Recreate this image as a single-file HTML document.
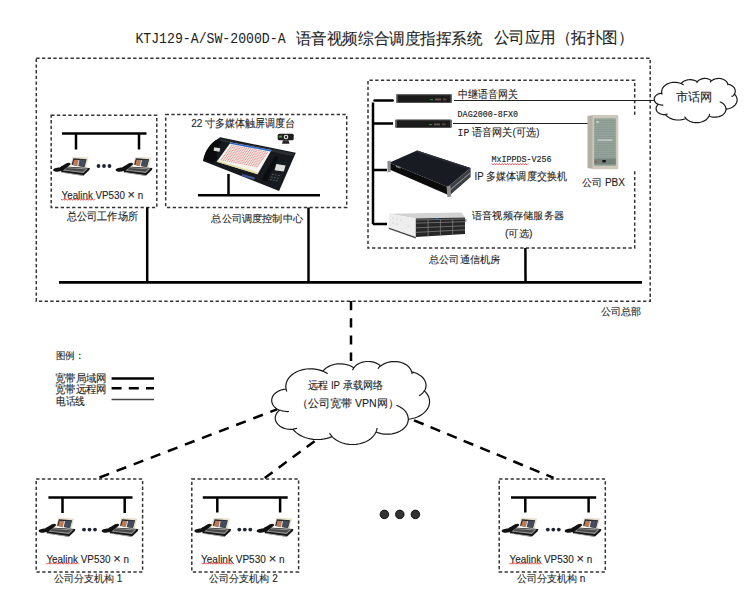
<!DOCTYPE html><html><head><meta charset="utf-8"><style>
html,body{margin:0;padding:0;background:#fff;width:750px;height:600px;overflow:hidden}
svg{display:block}
</style></head><body>
<svg width="750" height="600" viewBox="0 0 750 600">
<defs>
<symbol id="phone" viewBox="0 0 37 20" overflow="visible">
 <polygon points="19,0.8 35.1,1.4 32.5,12.3 17.2,9.3" fill="#e6dfcc"/>
 <polygon points="19.9,2.3 33.1,3.2 31,11.1 18.1,8.75" fill="#23262c"/>
 <polygon points="20.6,3.8 24.8,4.1 23.6,9.9 19.2,9.1" fill="#bf7a55"/>
 <polygon points="24.8,4.1 26.3,4.2 25.1,10.1 23.6,9.9" fill="#d8d8d8"/>
 <polygon points="26.3,3.5 32.5,3.9 30.6,10.9 25.1,10.1" fill="#424c5c"/>
 <polygon points="7.6,10.3 36.3,12 35.9,14 29.8,19.8 7.8,16.2" fill="#141414"/>
 <polygon points="11.1,11.1 34.5,12.6 29.8,17 9.3,14.6" fill="#9c9c9c"/>
 <polygon points="13,11.9 32.5,13.2 29.5,15.8 11.5,13.9" fill="#4a4a4a"/>
 <polygon points="8.5,15.9 29.8,19 29.8,19.9 8,16.7" fill="#a8a8a8"/>
 <path d="M-0.3,14.2 C-0.5,12.2 3,11.6 6,11.4 L13,7.2 C15.5,6 17.8,6.8 16.8,8.8 L10.8,13.6 C7.5,16 0.5,16.5 -0.3,14.2 Z" fill="#111"/>
</symbol>
<symbol id="dots3" viewBox="0 0 15 4" overflow="visible">
 <circle cx="2" cy="2" r="1.9" fill="#1d2533"/><circle cx="7.5" cy="2" r="1.9" fill="#1d2533"/><circle cx="13" cy="2" r="1.9" fill="#1d2533"/>
</symbol>
</defs>
<g fill="none" stroke="#000">
<rect x="36.3" y="58.2" width="613.9000000000001" height="243.0" stroke="#333" stroke-width="1.5" stroke-dasharray="3.3 2.4"/>
<rect x="51.2" y="115.2" width="105.60000000000001" height="92.3" stroke="#333" stroke-width="1.5" stroke-dasharray="3.3 2.4"/>
<rect x="165.7" y="114.5" width="181.0" height="92.9" stroke="#333" stroke-width="1.5" stroke-dasharray="3.3 2.4"/>
<path d="M634.7,114.7 L634.7,80.2 L368,80.2 L368,248.1 L634.7,248.1 L634.7,171" stroke="#333" stroke-width="1.5" stroke-dasharray="3.3 2.4"/>
<rect x="36.2" y="479" width="106.39999999999999" height="92.89999999999998" stroke="#333" stroke-width="1.5" stroke-dasharray="3.3 2.4"/>
<rect x="191.8" y="479" width="106.80000000000001" height="92.89999999999998" stroke="#333" stroke-width="1.5" stroke-dasharray="3.3 2.4"/>
<rect x="499.2" y="479" width="106.09999999999997" height="92.89999999999998" stroke="#333" stroke-width="1.5" stroke-dasharray="3.3 2.4"/>
</g>
<g stroke="#000" fill="none" stroke-linecap="butt">
<line x1="59" y1="282.3" x2="642" y2="282.3" stroke-width="2.8"/>
<line x1="147.2" y1="207.5" x2="147.2" y2="282" stroke-width="2.5"/>
<line x1="308.5" y1="207.5" x2="308.5" y2="282" stroke-width="2.5"/>
<line x1="525.4" y1="248" x2="525.5" y2="282" stroke-width="2.5"/>
<line x1="62" y1="133.5" x2="146.5" y2="133.5" stroke-width="2.5"/><line x1="76" y1="133.5" x2="76" y2="149.5" stroke-width="2.5"/><line x1="139" y1="133.5" x2="139" y2="149.5" stroke-width="2.5"/>
<line x1="48.4" y1="497.5" x2="132.5" y2="497.5" stroke-width="2.5"/><line x1="62.5" y1="497.5" x2="62.5" y2="513" stroke-width="2.5"/><line x1="124.7" y1="497.5" x2="124.7" y2="513" stroke-width="2.5"/>
<line x1="202.8" y1="497.5" x2="287.7" y2="497.5" stroke-width="2.5"/><line x1="217.3" y1="497.5" x2="217.3" y2="512.5" stroke-width="2.5"/><line x1="280.1" y1="497.5" x2="280.1" y2="512.5" stroke-width="2.5"/>
<line x1="511" y1="497.5" x2="596.2" y2="497.5" stroke-width="2.5"/><line x1="525.3" y1="497.5" x2="525.3" y2="512.5" stroke-width="2.5"/><line x1="588.6" y1="497.5" x2="588.6" y2="512.5" stroke-width="2.5"/>
<line x1="198" y1="195.2" x2="320" y2="195.2" stroke-width="2.5"/>
<line x1="228.5" y1="174" x2="228.5" y2="195" stroke-width="2.5"/>
<path d="M374.5,100.5 L392.6,100.5" stroke-width="2.5" stroke-linecap="round"/><path d="M373,102.5 L373,224.2 M373,123.5 L393,123.5 M373,170 L387,170 M373,224 L387,224" stroke-width="2.5"/>
<line x1="454" y1="100.5" x2="654" y2="100.5" stroke-width="1.2" stroke="#222"/>
<line x1="453" y1="123.5" x2="588" y2="123.5" stroke-width="1.2" stroke="#222"/>
<line x1="351" y1="301" x2="351" y2="361" stroke-width="2.5" stroke-dasharray="9.2 8"/>
<line x1="99.5" y1="477.5" x2="277" y2="409.3" stroke-width="2.5" stroke-dasharray="10.3 8"/>
<line x1="264.7" y1="478" x2="315.3" y2="440.7" stroke-width="2.5" stroke-dasharray="9.8 7.6"/>
<line x1="414" y1="420.3" x2="553.6" y2="477.9" stroke-width="2.5" stroke-dasharray="10.4 7.5"/>
<line x1="111.6" y1="378.6" x2="154" y2="378.6" stroke-width="2.5"/>
<line x1="111.6" y1="388.2" x2="154" y2="388.2" stroke-width="2.5" stroke-dasharray="10 7.2"/>
<line x1="111.6" y1="399.5" x2="154" y2="399.5" stroke-width="1.3" stroke="#444"/>
</g>
<path d="M286.04,388.81L285.81,386.35 286.07,383.89 286.80,381.48 287.99,379.17 289.62,377.00 291.66,375.01 294.07,373.25 296.79,371.74 299.78,370.52 302.98,369.61 306.32,369.02 309.75,368.78 313.19,368.88 316.57,369.32 319.84,370.10 322.93,371.19L324.10,369.81 325.49,368.53 327.08,367.38 328.85,366.36 330.76,365.50 332.81,364.80 334.95,364.28 337.16,363.94 339.41,363.79 341.67,363.83 343.91,364.05 346.10,364.46 348.21,365.05 350.21,365.81 352.07,366.73 353.77,367.79L354.79,366.54 356.01,365.39 357.43,364.37 359.02,363.47 360.75,362.73 362.60,362.15 364.54,361.75 366.53,361.52 368.55,361.48 370.56,361.61 372.52,361.93 374.42,362.43 376.21,363.09 377.88,363.91 379.38,364.87 380.70,365.97L382.45,364.69 384.44,363.60 386.61,362.72 388.95,362.06 391.38,361.65 393.87,361.49 396.37,361.58 398.83,361.92 401.19,362.51 403.42,363.32 405.46,364.36 407.28,365.58 408.84,366.98 410.11,368.53 411.06,370.18 411.68,371.91L413.65,372.38 415.55,373.00 417.34,373.76 419.01,374.65 420.53,375.66 421.90,376.79 423.09,378.01 424.09,379.32 424.90,380.70 425.49,382.13 425.87,383.59 426.03,385.08 425.96,386.57 425.68,388.05 425.17,389.50 424.46,390.90L426.25,392.82 427.67,394.88 428.72,397.07 429.35,399.33 429.57,401.63 429.38,403.93 428.76,406.19 427.75,408.38 426.34,410.45 424.57,412.38 422.47,414.12 420.06,415.65 417.40,416.95 414.53,417.99 411.49,418.75 408.34,419.23L408.14,421.23 407.56,423.18 406.63,425.07 405.36,426.86 403.77,428.50 401.89,429.99 399.75,431.28 397.39,432.36 394.86,433.20 392.19,433.80 389.43,434.14 386.64,434.22 383.85,434.03 381.13,433.58 378.51,432.87 376.04,431.93L374.80,434.26 373.12,436.45 371.02,438.44 368.56,440.20 365.78,441.69 362.73,442.89 359.47,443.77 356.08,444.31 352.61,444.50 349.14,444.34 345.74,443.83 342.47,442.99 339.40,441.82 336.59,440.35 334.09,438.61 331.96,436.64L329.49,437.59 326.90,438.36 324.22,438.94 321.47,439.33 318.68,439.51 315.88,439.50 313.09,439.29 310.34,438.88 307.67,438.28 305.09,437.49 302.64,436.51 300.33,435.37 298.19,434.07 296.24,432.62 294.50,431.04 292.99,429.35L290.57,429.42 288.16,429.23 285.82,428.77 283.60,428.07 281.56,427.14 279.74,425.99 278.18,424.66 276.93,423.18 276.00,421.58 275.43,419.90 275.22,418.17 275.38,416.44 275.91,414.75 276.79,413.14 278.00,411.64 279.52,410.29L277.48,409.26 275.68,408.02 274.18,406.60 273.01,405.02 272.19,403.33 271.75,401.57 271.70,399.78 272.03,398.01 272.74,396.30 273.82,394.68 275.24,393.21 276.95,391.92 278.93,390.83 281.12,389.98 283.46,389.39 285.90,389.07ZM288.93,411.49L287.33,411.53 285.73,411.44 284.15,411.24 282.60,410.92 281.11,410.50 279.68,409.96M297.09,428.25L296.44,428.43 295.77,428.58 295.10,428.71 294.42,428.82 293.74,428.92 293.04,428.98M331.95,436.30L331.48,435.77 331.03,435.23 330.61,434.68 330.22,434.12 329.85,433.54 329.51,432.96M377.03,427.97L376.94,428.59 376.83,429.21 376.68,429.82 376.50,430.43 376.30,431.04 376.06,431.64M396.39,405.30L399.76,406.77 402.70,408.67 405.09,410.93 406.85,413.46 407.92,416.19 408.26,419.01M424.38,390.70L423.74,391.67 423.00,392.60 422.15,393.49 421.22,394.33 420.20,395.11 419.10,395.84M411.70,371.62L411.79,372.03 411.87,372.43 411.92,372.83 411.96,373.24 411.98,373.65 411.98,374.05M377.95,368.79L378.31,368.24 378.71,367.70 379.15,367.17 379.62,366.66 380.12,366.17 380.66,365.70M352.62,370.27L352.78,369.81 352.96,369.35 353.16,368.90 353.40,368.46 353.65,368.03 353.94,367.60M322.91,371.18L323.76,371.55 324.58,371.95 325.39,372.37 326.17,372.81 326.92,373.28 327.65,373.77M286.87,391.54L286.69,391.09 286.52,390.64 286.38,390.18 286.25,389.73 286.13,389.27 286.04,388.81" fill="none" stroke="#1a1a1a" stroke-width="1.2"/>
<path d="M661.77,93.00L661.66,91.69 661.79,90.38 662.18,89.10 662.80,87.87 663.66,86.71 664.73,85.65 665.99,84.71 667.42,83.91 668.99,83.26 670.67,82.78 672.43,82.47 674.22,82.34 676.03,82.39 677.81,82.63 679.52,83.04 681.14,83.62L681.76,82.88 682.49,82.20 683.33,81.59 684.25,81.05 685.26,80.59 686.33,80.22 687.46,79.94 688.62,79.76 689.80,79.68 690.99,79.70 692.16,79.82 693.31,80.04 694.42,80.35 695.47,80.75 696.45,81.24 697.34,81.81L697.87,81.15 698.52,80.53 699.26,79.99 700.09,79.51 701.00,79.12 701.98,78.81 702.99,78.59 704.04,78.47 705.10,78.45 706.15,78.52 707.19,78.69 708.18,78.95 709.12,79.31 710.00,79.74 710.79,80.26 711.48,80.84L712.40,80.16 713.44,79.58 714.58,79.11 715.81,78.76 717.09,78.54 718.39,78.46 719.71,78.50 721.00,78.68 722.24,79.00 723.41,79.43 724.48,79.98 725.44,80.64 726.25,81.38 726.92,82.20 727.42,83.08 727.74,84.01L728.78,84.25 729.77,84.58 730.71,84.99 731.59,85.46 732.39,86.00 733.11,86.60 733.74,87.25 734.26,87.95 734.68,88.68 735.00,89.44 735.19,90.23 735.28,91.02 735.24,91.81 735.09,92.60 734.83,93.37 734.45,94.12L735.39,95.14 736.14,96.24 736.69,97.40 737.02,98.60 737.14,99.83 737.04,101.05 736.71,102.26 736.18,103.42 735.44,104.53 734.51,105.55 733.41,106.48 732.15,107.30 730.75,107.99 729.24,108.54 727.65,108.95 725.99,109.20L725.88,110.27 725.58,111.31 725.09,112.31 724.42,113.26 723.59,114.14 722.60,114.93 721.48,115.62 720.24,116.19 718.91,116.64 717.51,116.96 716.06,117.14 714.60,117.18 713.13,117.08 711.70,116.84 710.33,116.47 709.03,115.97L708.38,117.21 707.50,118.37 706.40,119.43 705.10,120.37 703.64,121.17 702.04,121.80 700.33,122.27 698.55,122.56 696.73,122.66 694.91,122.58 693.12,122.31 691.41,121.85 689.79,121.23 688.32,120.45 687.01,119.52 685.89,118.47L684.59,118.98 683.23,119.39 681.82,119.70 680.38,119.90 678.91,120.00 677.44,120.00 675.98,119.89 674.54,119.67 673.13,119.35 671.78,118.92 670.49,118.41 669.28,117.80 668.16,117.11 667.13,116.34 666.22,115.49 665.43,114.59L664.15,114.63 662.89,114.53 661.66,114.28 660.50,113.91 659.42,113.41 658.47,112.80 657.65,112.10 656.99,111.31 656.51,110.45 656.21,109.56 656.10,108.64 656.18,107.72 656.46,106.82 656.92,105.96 657.55,105.16 658.35,104.44L657.28,103.90 656.34,103.24 655.55,102.48 654.93,101.64 654.50,100.74 654.27,99.80 654.24,98.85 654.42,97.90 654.80,96.99 655.36,96.13 656.10,95.35 657.01,94.66 658.04,94.08 659.19,93.63 660.42,93.31 661.71,93.14ZM663.29,105.08L662.45,105.10 661.61,105.05 660.78,104.95 659.97,104.78 659.19,104.55 658.44,104.27M667.58,114.01L667.24,114.10 666.89,114.18 666.53,114.25 666.18,114.31 665.82,114.36 665.45,114.40M685.88,118.29L685.63,118.01 685.40,117.72 685.18,117.43 684.97,117.13 684.78,116.82 684.60,116.51M709.55,113.86L709.51,114.19 709.44,114.51 709.37,114.84 709.27,115.17 709.17,115.49 709.04,115.81M719.71,101.79L721.49,102.57 723.03,103.58 724.28,104.78 725.21,106.13 725.77,107.58 725.95,109.09M734.41,94.01L734.08,94.53 733.69,95.02 733.24,95.50 732.75,95.94 732.22,96.36 731.64,96.75M727.75,83.85L727.80,84.07 727.84,84.28 727.87,84.50 727.89,84.71 727.90,84.93 727.90,85.14M710.03,82.34L710.22,82.05 710.43,81.76 710.66,81.48 710.91,81.21 711.17,80.95 711.45,80.69M696.74,83.13L696.82,82.88 696.91,82.64 697.02,82.40 697.14,82.17 697.28,81.93 697.43,81.71M681.13,83.61L681.58,83.81 682.01,84.02 682.44,84.25 682.85,84.48 683.24,84.73 683.62,84.99M662.21,94.45L662.12,94.22 662.03,93.98 661.95,93.73 661.89,93.49 661.83,93.25 661.78,93.00" fill="none" stroke="#1a1a1a" stroke-width="1.2"/>
<g>
<!-- rack unit 1 -->
<rect x="396" y="94.5" width="56" height="8.3" rx="1.5" fill="#1b1b1b"/>
<rect x="396" y="94.5" width="56" height="1" fill="#3c3c3c"/>
<rect x="396" y="94.8" width="1.5" height="7.8" fill="#777"/>
<rect x="450.5" y="94.8" width="1.5" height="7.8" fill="#666"/>
<rect x="430" y="99" width="3" height="1.2" fill="#2e7d3a"/>
<rect x="435" y="98.5" width="6" height="1.8" fill="#6b5a48"/>
<rect x="443" y="98.5" width="3.5" height="1.8" fill="#5a4a3a"/>
<!-- rack unit 2 -->
<rect x="395.2" y="119.7" width="56.4" height="8" rx="1.5" fill="#1b1b1b"/>
<rect x="395.2" y="119.7" width="56.4" height="1" fill="#3c3c3c"/>
<rect x="395.2" y="120" width="1.5" height="7.5" fill="#777"/>
<rect x="450.1" y="120" width="1.5" height="7.5" fill="#666"/>
<rect x="429" y="124" width="3" height="1.2" fill="#2e7d3a"/>
<rect x="434" y="123.5" width="6" height="1.8" fill="#6b5a48"/>
<rect x="442" y="123.5" width="3.5" height="1.8" fill="#5a4a3a"/>
<!-- switch -->
<polygon points="389.2,162.7 417,150.6 470.6,167.9 447.8,187" fill="#181b22"/>
<polygon points="417,150.6 470.6,167.9 469,169.2 416,152" fill="#2a2e36"/>
<polygon points="389.2,162.7 447.8,187 449.5,195.5 389.5,169.5" fill="#0b0b0c"/>
<polygon points="447.8,187 470.6,167.9 470.6,177 449.5,195.5" fill="#3a3d42"/><polygon points="448.5,190.5 470.6,172 470.6,173.2 448.8,191.8" fill="#8a8d92"/>
<polygon points="387.4,161.2 390.6,160.4 390.8,171.6 387.6,172.4" fill="#8d8d8d"/>
<polygon points="446.6,186.4 450.4,185.6 451.2,196.4 447.4,197.2" fill="#8d8d8d"/>
<polygon points="396,165.2 400.5,167 400.5,168.8 396,167" fill="#7a7a7a"/>
<!-- storage server -->
<polygon points="389,213.8 461.7,212.4 465,217.6 415.8,218.5" fill="#d2d2d2"/>
<polygon points="389,213.8 415.8,218.5 415.8,237 388.5,227.5" fill="#eeeeee"/>
<g fill="#b5b5b5"><circle cx="393" cy="218" r="0.5"/><circle cx="397" cy="219" r="0.5"/><circle cx="401" cy="220" r="0.5"/><circle cx="393" cy="223" r="0.5"/><circle cx="397" cy="224" r="0.5"/><circle cx="408" cy="226" r="0.5"/></g>
<polygon points="415.8,218.5 465,217.6 465,233.9 415.8,237" fill="#262626"/>
<g stroke="#8a8a8a" stroke-width="0.7"><line x1="415.8" y1="223.1" x2="465.0" y2="221.7"/><line x1="415.8" y1="227.8" x2="465.0" y2="225.8"/><line x1="415.8" y1="232.4" x2="465.0" y2="229.8"/><line x1="428.1" y1="219.7" x2="428.1" y2="236.2"/><line x1="440.4" y1="219.4" x2="440.4" y2="235.4"/><line x1="452.7" y1="219.2" x2="452.7" y2="234.7"/><line x1="415.8" y1="220.0" x2="465.0" y2="218.9"/></g>
<rect x="436" y="218.3" width="2.4" height="1.3" fill="#3b6cc0"/>
<polygon points="388.5,227.5 415.8,237 415.8,238.5 389,229" fill="#444"/>
<rect x="465" y="219" width="1.4" height="3" fill="#999"/>
<!-- PBX -->
<polygon points="587.5,116 594.2,115 594.2,169.2 587.5,168" fill="#b4b0a3"/>
<rect x="592.5" y="115" width="25.8" height="54.2" rx="1" fill="#ccc8bb"/>
<rect x="594.2" y="118.3" width="21.6" height="47.5" fill="#93a39a"/>
<rect x="594.2" y="120.0" width="21.6" height="0.5" fill="#84938a"/><rect x="594.2" y="122.3" width="21.6" height="0.5" fill="#84938a"/><rect x="594.2" y="124.6" width="21.6" height="0.5" fill="#84938a"/><rect x="594.2" y="126.9" width="21.6" height="0.5" fill="#84938a"/><rect x="594.2" y="129.2" width="21.6" height="0.5" fill="#84938a"/><rect x="594.2" y="131.5" width="21.6" height="0.5" fill="#84938a"/><rect x="594.2" y="133.8" width="21.6" height="0.5" fill="#84938a"/><rect x="594.2" y="136.1" width="21.6" height="0.5" fill="#84938a"/><rect x="594.2" y="138.4" width="21.6" height="0.5" fill="#84938a"/><rect x="594.2" y="140.7" width="21.6" height="0.5" fill="#84938a"/><rect x="594.2" y="143.0" width="21.6" height="0.5" fill="#84938a"/><rect x="594.2" y="145.3" width="21.6" height="0.5" fill="#84938a"/><rect x="594.2" y="147.6" width="21.6" height="0.5" fill="#84938a"/><rect x="594.2" y="149.9" width="21.6" height="0.5" fill="#84938a"/><rect x="594.2" y="152.2" width="21.6" height="0.5" fill="#84938a"/><rect x="594.2" y="154.5" width="21.6" height="0.5" fill="#84938a"/><rect x="594.2" y="156.8" width="21.6" height="0.5" fill="#84938a"/>
<rect x="597.5" y="139.5" width="15" height="1.2" fill="#cfd8d2"/>
<rect x="596" y="121.5" width="3" height="1" fill="#e6ece8"/>
<rect x="594.2" y="158.5" width="21.6" height="6" fill="#76837b"/>
<circle cx="595.9" cy="161.6" r="0.9" fill="#c0392b"/>
<rect x="602.3" y="160" width="3.6" height="2.4" fill="#151515"/>
<!-- console -->
<path d="M220.2,137.3 L295.8,152.8 L279.1,190.9 L202.9,161.1 C204,154 208,146 214.6,141 Z" fill="#16191d"/>
<polygon points="221,139 294,153.6 293,156 220,141" fill="#2a2e33"/>
<polygon points="230.6,142.4 271.5,150 257.6,174.3 216.7,161.8" fill="#f4f4ee"/>
<polygon points="230.6,142.4 271.5,150 270.7,151.4 229.8,143.7" fill="#2d64c8"/>
<g fill="#de8f92"><rect x="231.07" y="144.96" width="1.3" height="1.1"/><rect x="230.02" y="146.40" width="1.3" height="1.1"/><rect x="228.97" y="147.83" width="1.3" height="1.1"/><rect x="227.91" y="149.26" width="1.3" height="1.1"/><rect x="226.86" y="150.70" width="1.3" height="1.1"/><rect x="225.81" y="152.13" width="1.3" height="1.1"/><rect x="224.75" y="153.56" width="1.3" height="1.1"/><rect x="223.70" y="155.00" width="1.3" height="1.1"/><rect x="222.64" y="156.43" width="1.3" height="1.1"/><rect x="221.59" y="157.87" width="1.3" height="1.1"/><rect x="220.54" y="159.30" width="1.3" height="1.1"/><rect x="233.18" y="145.35" width="1.3" height="1.1"/><rect x="232.12" y="146.79" width="1.3" height="1.1"/><rect x="231.07" y="148.22" width="1.3" height="1.1"/><rect x="230.01" y="149.66" width="1.3" height="1.1"/><rect x="228.96" y="151.09" width="1.3" height="1.1"/><rect x="227.91" y="152.52" width="1.3" height="1.1"/><rect x="226.85" y="153.96" width="1.3" height="1.1"/><rect x="225.80" y="155.39" width="1.3" height="1.1"/><rect x="224.75" y="156.82" width="1.3" height="1.1"/><rect x="223.69" y="158.26" width="1.3" height="1.1"/><rect x="222.64" y="159.69" width="1.3" height="1.1"/><rect x="235.28" y="145.75" width="1.3" height="1.1"/><rect x="234.22" y="147.18" width="1.3" height="1.1"/><rect x="233.17" y="148.61" width="1.3" height="1.1"/><rect x="232.12" y="150.05" width="1.3" height="1.1"/><rect x="231.06" y="151.48" width="1.3" height="1.1"/><rect x="230.01" y="152.91" width="1.3" height="1.1"/><rect x="228.96" y="154.35" width="1.3" height="1.1"/><rect x="227.90" y="155.78" width="1.3" height="1.1"/><rect x="226.85" y="157.22" width="1.3" height="1.1"/><rect x="225.79" y="158.65" width="1.3" height="1.1"/><rect x="224.74" y="160.08" width="1.3" height="1.1"/><rect x="237.38" y="146.14" width="1.3" height="1.1"/><rect x="236.32" y="147.57" width="1.3" height="1.1"/><rect x="235.27" y="149.01" width="1.3" height="1.1"/><rect x="234.22" y="150.44" width="1.3" height="1.1"/><rect x="233.16" y="151.87" width="1.3" height="1.1"/><rect x="232.11" y="153.31" width="1.3" height="1.1"/><rect x="231.06" y="154.74" width="1.3" height="1.1"/><rect x="230.00" y="156.17" width="1.3" height="1.1"/><rect x="228.95" y="157.61" width="1.3" height="1.1"/><rect x="227.90" y="159.04" width="1.3" height="1.1"/><rect x="226.84" y="160.48" width="1.3" height="1.1"/><rect x="239.48" y="146.53" width="1.3" height="1.1"/><rect x="238.43" y="147.96" width="1.3" height="1.1"/><rect x="237.37" y="149.40" width="1.3" height="1.1"/><rect x="236.32" y="150.83" width="1.3" height="1.1"/><rect x="235.27" y="152.27" width="1.3" height="1.1"/><rect x="234.21" y="153.70" width="1.3" height="1.1"/><rect x="233.16" y="155.13" width="1.3" height="1.1"/><rect x="232.10" y="156.57" width="1.3" height="1.1"/><rect x="231.05" y="158.00" width="1.3" height="1.1"/><rect x="230.00" y="159.43" width="1.3" height="1.1"/><rect x="228.94" y="160.87" width="1.3" height="1.1"/><rect x="241.58" y="146.92" width="1.3" height="1.1"/><rect x="240.53" y="148.36" width="1.3" height="1.1"/><rect x="239.47" y="149.79" width="1.3" height="1.1"/><rect x="238.42" y="151.22" width="1.3" height="1.1"/><rect x="237.37" y="152.66" width="1.3" height="1.1"/><rect x="236.31" y="154.09" width="1.3" height="1.1"/><rect x="235.26" y="155.52" width="1.3" height="1.1"/><rect x="234.21" y="156.96" width="1.3" height="1.1"/><rect x="233.15" y="158.39" width="1.3" height="1.1"/><rect x="232.10" y="159.83" width="1.3" height="1.1"/><rect x="231.05" y="161.26" width="1.3" height="1.1"/><rect x="243.68" y="147.31" width="1.3" height="1.1"/><rect x="242.63" y="148.75" width="1.3" height="1.1"/><rect x="241.58" y="150.18" width="1.3" height="1.1"/><rect x="240.52" y="151.62" width="1.3" height="1.1"/><rect x="239.47" y="153.05" width="1.3" height="1.1"/><rect x="238.42" y="154.48" width="1.3" height="1.1"/><rect x="237.36" y="155.92" width="1.3" height="1.1"/><rect x="236.31" y="157.35" width="1.3" height="1.1"/><rect x="235.25" y="158.78" width="1.3" height="1.1"/><rect x="234.20" y="160.22" width="1.3" height="1.1"/><rect x="233.15" y="161.65" width="1.3" height="1.1"/><rect x="245.78" y="147.71" width="1.3" height="1.1"/><rect x="244.73" y="149.14" width="1.3" height="1.1"/><rect x="243.68" y="150.57" width="1.3" height="1.1"/><rect x="242.62" y="152.01" width="1.3" height="1.1"/><rect x="241.57" y="153.44" width="1.3" height="1.1"/><rect x="240.52" y="154.87" width="1.3" height="1.1"/><rect x="239.46" y="156.31" width="1.3" height="1.1"/><rect x="238.41" y="157.74" width="1.3" height="1.1"/><rect x="237.36" y="159.18" width="1.3" height="1.1"/><rect x="236.30" y="160.61" width="1.3" height="1.1"/><rect x="235.25" y="162.04" width="1.3" height="1.1"/><rect x="247.89" y="148.10" width="1.3" height="1.1"/><rect x="246.83" y="149.53" width="1.3" height="1.1"/><rect x="245.78" y="150.97" width="1.3" height="1.1"/><rect x="244.73" y="152.40" width="1.3" height="1.1"/><rect x="243.67" y="153.83" width="1.3" height="1.1"/><rect x="242.62" y="155.27" width="1.3" height="1.1"/><rect x="241.56" y="156.70" width="1.3" height="1.1"/><rect x="240.51" y="158.13" width="1.3" height="1.1"/><rect x="239.46" y="159.57" width="1.3" height="1.1"/><rect x="238.40" y="161.00" width="1.3" height="1.1"/><rect x="237.35" y="162.44" width="1.3" height="1.1"/><rect x="249.99" y="148.49" width="1.3" height="1.1"/><rect x="248.93" y="149.92" width="1.3" height="1.1"/><rect x="247.88" y="151.36" width="1.3" height="1.1"/><rect x="246.83" y="152.79" width="1.3" height="1.1"/><rect x="245.77" y="154.23" width="1.3" height="1.1"/><rect x="244.72" y="155.66" width="1.3" height="1.1"/><rect x="243.67" y="157.09" width="1.3" height="1.1"/><rect x="242.61" y="158.53" width="1.3" height="1.1"/><rect x="241.56" y="159.96" width="1.3" height="1.1"/><rect x="240.51" y="161.39" width="1.3" height="1.1"/><rect x="239.45" y="162.83" width="1.3" height="1.1"/><rect x="252.09" y="148.88" width="1.3" height="1.1"/><rect x="251.04" y="150.32" width="1.3" height="1.1"/><rect x="249.98" y="151.75" width="1.3" height="1.1"/><rect x="248.93" y="153.18" width="1.3" height="1.1"/><rect x="247.87" y="154.62" width="1.3" height="1.1"/><rect x="246.82" y="156.05" width="1.3" height="1.1"/><rect x="245.77" y="157.48" width="1.3" height="1.1"/><rect x="244.71" y="158.92" width="1.3" height="1.1"/><rect x="243.66" y="160.35" width="1.3" height="1.1"/><rect x="242.61" y="161.79" width="1.3" height="1.1"/><rect x="241.55" y="163.22" width="1.3" height="1.1"/><rect x="254.19" y="149.27" width="1.3" height="1.1"/><rect x="253.14" y="150.71" width="1.3" height="1.1"/><rect x="252.08" y="152.14" width="1.3" height="1.1"/><rect x="251.03" y="153.58" width="1.3" height="1.1"/><rect x="249.98" y="155.01" width="1.3" height="1.1"/><rect x="248.92" y="156.44" width="1.3" height="1.1"/><rect x="247.87" y="157.88" width="1.3" height="1.1"/><rect x="246.82" y="159.31" width="1.3" height="1.1"/><rect x="245.76" y="160.74" width="1.3" height="1.1"/><rect x="244.71" y="162.18" width="1.3" height="1.1"/><rect x="243.65" y="163.61" width="1.3" height="1.1"/><rect x="256.29" y="149.67" width="1.3" height="1.1"/><rect x="255.24" y="151.10" width="1.3" height="1.1"/><rect x="254.19" y="152.53" width="1.3" height="1.1"/><rect x="253.13" y="153.97" width="1.3" height="1.1"/><rect x="252.08" y="155.40" width="1.3" height="1.1"/><rect x="251.02" y="156.83" width="1.3" height="1.1"/><rect x="249.97" y="158.27" width="1.3" height="1.1"/><rect x="248.92" y="159.70" width="1.3" height="1.1"/><rect x="247.86" y="161.14" width="1.3" height="1.1"/><rect x="246.81" y="162.57" width="1.3" height="1.1"/><rect x="245.76" y="164.00" width="1.3" height="1.1"/><rect x="258.39" y="150.06" width="1.3" height="1.1"/><rect x="257.34" y="151.49" width="1.3" height="1.1"/><rect x="256.29" y="152.93" width="1.3" height="1.1"/><rect x="255.23" y="154.36" width="1.3" height="1.1"/><rect x="254.18" y="155.79" width="1.3" height="1.1"/><rect x="253.13" y="157.23" width="1.3" height="1.1"/><rect x="252.07" y="158.66" width="1.3" height="1.1"/><rect x="251.02" y="160.09" width="1.3" height="1.1"/><rect x="249.97" y="161.53" width="1.3" height="1.1"/><rect x="248.91" y="162.96" width="1.3" height="1.1"/><rect x="247.86" y="164.40" width="1.3" height="1.1"/><rect x="260.50" y="150.45" width="1.3" height="1.1"/><rect x="259.44" y="151.88" width="1.3" height="1.1"/><rect x="258.39" y="153.32" width="1.3" height="1.1"/><rect x="257.33" y="154.75" width="1.3" height="1.1"/><rect x="256.28" y="156.19" width="1.3" height="1.1"/><rect x="255.23" y="157.62" width="1.3" height="1.1"/><rect x="254.17" y="159.05" width="1.3" height="1.1"/><rect x="253.12" y="160.49" width="1.3" height="1.1"/><rect x="252.07" y="161.92" width="1.3" height="1.1"/><rect x="251.01" y="163.35" width="1.3" height="1.1"/><rect x="249.96" y="164.79" width="1.3" height="1.1"/><rect x="262.60" y="150.84" width="1.3" height="1.1"/><rect x="261.54" y="152.28" width="1.3" height="1.1"/><rect x="260.49" y="153.71" width="1.3" height="1.1"/><rect x="259.44" y="155.14" width="1.3" height="1.1"/><rect x="258.38" y="156.58" width="1.3" height="1.1"/><rect x="257.33" y="158.01" width="1.3" height="1.1"/><rect x="256.28" y="159.44" width="1.3" height="1.1"/><rect x="255.22" y="160.88" width="1.3" height="1.1"/><rect x="254.17" y="162.31" width="1.3" height="1.1"/><rect x="253.11" y="163.75" width="1.3" height="1.1"/><rect x="252.06" y="165.18" width="1.3" height="1.1"/><rect x="264.70" y="151.23" width="1.3" height="1.1"/><rect x="263.65" y="152.67" width="1.3" height="1.1"/><rect x="262.59" y="154.10" width="1.3" height="1.1"/><rect x="261.54" y="155.54" width="1.3" height="1.1"/><rect x="260.48" y="156.97" width="1.3" height="1.1"/><rect x="259.43" y="158.40" width="1.3" height="1.1"/><rect x="258.38" y="159.84" width="1.3" height="1.1"/><rect x="257.32" y="161.27" width="1.3" height="1.1"/><rect x="256.27" y="162.70" width="1.3" height="1.1"/><rect x="255.22" y="164.14" width="1.3" height="1.1"/><rect x="254.16" y="165.57" width="1.3" height="1.1"/><rect x="266.80" y="151.63" width="1.3" height="1.1"/><rect x="265.75" y="153.06" width="1.3" height="1.1"/><rect x="264.69" y="154.49" width="1.3" height="1.1"/><rect x="263.64" y="155.93" width="1.3" height="1.1"/><rect x="262.59" y="157.36" width="1.3" height="1.1"/><rect x="261.53" y="158.79" width="1.3" height="1.1"/><rect x="260.48" y="160.23" width="1.3" height="1.1"/><rect x="259.42" y="161.66" width="1.3" height="1.1"/><rect x="258.37" y="163.10" width="1.3" height="1.1"/><rect x="257.32" y="164.53" width="1.3" height="1.1"/><rect x="256.26" y="165.96" width="1.3" height="1.1"/></g>
<polygon points="217.6,160.4 258,172.7 257.6,174.3 216.7,161.8" fill="#e3d9a0"/>
<polygon points="242.4,174 254.9,177.6 254,179.5 241.5,176" fill="#3c5a9a"/>
<path d="M204,160 C204,154 208,146 216,140 L222,141.5 C218,146 216.5,152 217,158 L214,163 Z" fill="#0a0b0d"/>
<polygon points="214.2,147.3 220.2,148.3 219.6,151.8 213.6,150.8" fill="#d9d9d9"/>
<path d="M262,178.5 L274,158 C275.5,155 278.5,155 278,158.5 L268,180 C266.5,182 262,181.5 262,178.5 Z" fill="#0c0d10"/>
<polygon points="276.3,164 285.6,165.4 283.8,171.6 274.6,170.2" fill="#dedede"/>
<polygon points="271,171.5 282.8,173.4 279.5,182.6 267.8,180.5" fill="#1c1e22"/>
<g fill="#55595f"><rect x="272" y="174" width="1.6" height="1"/><rect x="275" y="174.5" width="1.6" height="1"/><rect x="278" y="175" width="1.6" height="1"/><rect x="271" y="176.6" width="1.6" height="1"/><rect x="274" y="177.1" width="1.6" height="1"/><rect x="277" y="177.6" width="1.6" height="1"/><rect x="270" y="179.2" width="1.6" height="1"/><rect x="273" y="179.7" width="1.6" height="1"/><rect x="276" y="180.2" width="1.6" height="1"/></g>
<!-- camera -->
<rect x="277.7" y="133.7" width="16" height="6.6" rx="1.5" fill="#1e1e1e"/>
<circle cx="286" cy="137" r="2.3" fill="#e8e8e8"/><circle cx="286" cy="137" r="1.2" fill="#2a2a2a"/>
<rect x="278.8" y="135.6" width="3.2" height="2" fill="#4a9a3a"/>
<polygon points="283,140.3 288.5,140.3 289.5,143.8 282,143.8" fill="#262626"/>
</g>
<use href="#phone" x="53.5" y="156" width="37" height="20"/>
<use href="#phone" x="116" y="156" width="37" height="20"/>
<use href="#phone" x="39" y="517" width="37" height="20"/>
<use href="#phone" x="102" y="517" width="37" height="20"/>
<use href="#phone" x="194.7" y="517" width="37" height="20"/>
<use href="#phone" x="257" y="517" width="37" height="20"/>
<use href="#phone" x="502" y="517" width="37" height="20"/>
<use href="#phone" x="565" y="517" width="37" height="20"/>
<use href="#dots3" x="96.5" y="164" width="15" height="4"/>
<use href="#dots3" x="237.3" y="527.6" width="15" height="4"/>
<use href="#dots3" x="545.8" y="527.6" width="15" height="4"/>
<use href="#dots3" x="82" y="527.6" width="15" height="4"/>
<circle cx="384.4" cy="514.4" r="4.3" fill="#333" stroke="#000" stroke-width="0.8"/>
<circle cx="399.8" cy="514.4" r="4.3" fill="#333" stroke="#000" stroke-width="0.8"/>
<circle cx="415.4" cy="514.4" r="4.3" fill="#333" stroke="#000" stroke-width="0.8"/>
<text x="135.40" y="43.22" font-size="14" textLength="150.20" lengthAdjust="spacingAndGlyphs" font-family='"Liberation Mono", monospace' fill="#222" stroke="#222" stroke-width="0">KTJ129-A/SW-2000D-A</text>
<text x="295.60" y="43.99" font-size="15.5" textLength="187.01" lengthAdjust="spacingAndGlyphs" font-family='"Liberation Sans", sans-serif' fill="#222" stroke="#222" stroke-width="0.1">语音视频综合调度指挥系统</text>
<text x="493.62" y="42.99" font-size="15.5" textLength="139.88" lengthAdjust="spacingAndGlyphs" font-family='"Liberation Sans", sans-serif' fill="#222" stroke="#222" stroke-width="0.1">公司应用（拓扑图）</text>
<text x="458.40" y="98.19" font-size="10.5" textLength="59.60" lengthAdjust="spacingAndGlyphs" font-family='"Liberation Sans", sans-serif' fill="#222" stroke="#222" stroke-width="0.1">中继语音网关</text>
<text x="457.59" y="117.41" font-size="9.5" textLength="60.41" lengthAdjust="spacingAndGlyphs" font-family='"Liberation Mono", monospace' fill="#222" stroke="#222" stroke-width="0.15">DAG2000-8FX0</text>
<text x="457.59" y="136.49" font-size="10.5" textLength="81.82" lengthAdjust="spacingAndGlyphs" font-family='"Liberation Sans", sans-serif' fill="#222" stroke="#222" stroke-width="0.1"><tspan font-family="Liberation Mono">IP</tspan> 语音网关(可选)</text>
<text x="491.40" y="161.61" font-size="9.5" textLength="60.21" lengthAdjust="spacingAndGlyphs" font-family='"Liberation Mono", monospace' fill="#222" stroke="#222" stroke-width="0.15">MxIPPDS-V256</text>
<text x="474.59" y="180.49" font-size="10.5" textLength="92.41" lengthAdjust="spacingAndGlyphs" font-family='"Liberation Sans", sans-serif' fill="#222" stroke="#222" stroke-width="0.1">IP 多媒体调度交换机</text>
<text x="472.00" y="219.30" font-size="10" textLength="92.03" lengthAdjust="spacingAndGlyphs" font-family='"Liberation Sans", sans-serif' fill="#222" stroke="#222" stroke-width="0.1">语音视频存储服务器</text>
<text x="505.00" y="237.10" font-size="10" textLength="27.42" lengthAdjust="spacingAndGlyphs" font-family='"Liberation Sans", sans-serif' fill="#222" stroke="#222" stroke-width="0.1">(可选)</text>
<text x="429.20" y="263.40" font-size="10" textLength="70.80" lengthAdjust="spacingAndGlyphs" font-family='"Liberation Sans", sans-serif' fill="#222" stroke="#222" stroke-width="0.1">总公司通信机房</text>
<text x="582.00" y="186.30" font-size="10" textLength="43.01" lengthAdjust="spacingAndGlyphs" font-family='"Liberation Sans", sans-serif' fill="#222" stroke="#222" stroke-width="0.1">公司 PBX</text>
<text x="675.80" y="100.76" font-size="12" textLength="36.82" lengthAdjust="spacingAndGlyphs" font-family='"Liberation Sans", sans-serif' fill="#222" stroke="#222" stroke-width="0.1">市话网</text>
<text x="601.19" y="315.20" font-size="10" textLength="40.41" lengthAdjust="spacingAndGlyphs" font-family='"Liberation Sans", sans-serif' fill="#222" stroke="#222" stroke-width="0.1">公司总部</text>
<text x="191.20" y="127.08" font-size="11" textLength="104.00" lengthAdjust="spacingAndGlyphs" font-family='"Liberation Sans", sans-serif' fill="#222" stroke="#222" stroke-width="0.1">22 寸多媒体触屏调度台</text>
<text x="211.40" y="221.50" font-size="10" textLength="91.60" lengthAdjust="spacingAndGlyphs" font-family='"Liberation Sans", sans-serif' fill="#222" stroke="#222" stroke-width="0.1">总公司调度控制中心</text>
<text x="61.60" y="199.19" font-size="10.5" textLength="81.60" lengthAdjust="spacingAndGlyphs" font-family='"Liberation Sans", sans-serif' fill="#222" stroke="#222" stroke-width="0.1">Yealink VP530 <tspan font-size="1.3em">×</tspan> n</text>
<text x="66.80" y="220.29" font-size="10.5" textLength="71.00" lengthAdjust="spacingAndGlyphs" font-family='"Liberation Sans", sans-serif' fill="#222" stroke="#222" stroke-width="0.1">总公司工作场所</text>
<text x="56.00" y="359.10" font-size="10" textLength="28.35" lengthAdjust="spacingAndGlyphs" font-family='"Liberation Sans", sans-serif' fill="#222" stroke="#222" stroke-width="0.1">图例：</text>
<text x="54.75" y="381.99" font-size="10.5" textLength="52.08" lengthAdjust="spacingAndGlyphs" font-family='"Liberation Sans", sans-serif' fill="#222" stroke="#222" stroke-width="0.1">宽带局域网</text>
<text x="54.75" y="393.49" font-size="10.5" textLength="52.08" lengthAdjust="spacingAndGlyphs" font-family='"Liberation Sans", sans-serif' fill="#222" stroke="#222" stroke-width="0.1">宽带远程网</text>
<text x="55.80" y="404.69" font-size="10.5" textLength="29.21" lengthAdjust="spacingAndGlyphs" font-family='"Liberation Sans", sans-serif' fill="#222" stroke="#222" stroke-width="0.1">电话线</text>
<text x="308.00" y="389.49" font-size="10.5" textLength="75.01" lengthAdjust="spacingAndGlyphs" font-family='"Liberation Sans", sans-serif' fill="#222" stroke="#222" stroke-width="0.1">远程 IP 承载网络</text>
<text x="296.73" y="407.09" font-size="10.5" textLength="102.18" lengthAdjust="spacingAndGlyphs" font-family='"Liberation Sans", sans-serif' fill="#222" stroke="#222" stroke-width="0.1">（公司宽带 VPN网）</text>
<text x="46.40" y="562.69" font-size="10.5" textLength="82.60" lengthAdjust="spacingAndGlyphs" font-family='"Liberation Sans", sans-serif' fill="#222" stroke="#222" stroke-width="0.1">Yealink VP530 <tspan font-size="1.3em">×</tspan> n</text>
<text x="53.80" y="582.40" font-size="10" textLength="68.40" lengthAdjust="spacingAndGlyphs" font-family='"Liberation Sans", sans-serif' fill="#222" stroke="#222" stroke-width="0.1">公司分支机构 1</text>
<text x="201.00" y="562.69" font-size="10.5" textLength="83.61" lengthAdjust="spacingAndGlyphs" font-family='"Liberation Sans", sans-serif' fill="#222" stroke="#222" stroke-width="0.1">Yealink VP530 <tspan font-size="1.3em">×</tspan> n</text>
<text x="209.40" y="582.40" font-size="10" textLength="68.40" lengthAdjust="spacingAndGlyphs" font-family='"Liberation Sans", sans-serif' fill="#222" stroke="#222" stroke-width="0.1">公司分支机构 2</text>
<text x="509.60" y="562.69" font-size="10.5" textLength="82.60" lengthAdjust="spacingAndGlyphs" font-family='"Liberation Sans", sans-serif' fill="#222" stroke="#222" stroke-width="0.1">Yealink VP530 <tspan font-size="1.3em">×</tspan> n</text>
<text x="517.00" y="582.40" font-size="10" textLength="68.40" lengthAdjust="spacingAndGlyphs" font-family='"Liberation Sans", sans-serif' fill="#222" stroke="#222" stroke-width="0.1">公司分支机构 n</text>
<polyline points="61.00,198.90 62.30,200.30 63.60,198.90 64.90,200.30 66.20,198.90 67.50,200.30 68.80,198.90 70.10,200.30 71.40,198.90 72.70,200.30 74.00,198.90 75.30,200.30 76.60,198.90 77.90,200.30 79.20,198.90 80.50,200.30 81.80,198.90 83.10,200.30 84.40,198.90 85.70,200.30 87.00,198.90 88.30,200.30 89.60,198.90 90.90,200.30 92.20,198.90 93.50,200.30 94.80,198.90" fill="none" stroke="#e83a3a" stroke-width="0.9"/>
<polyline points="491.70,163.50 493.00,164.90 494.30,163.50 495.60,164.90 496.90,163.50 498.20,164.90 499.50,163.50 500.80,164.90 502.10,163.50 503.40,164.90 504.70,163.50 506.00,164.90 507.30,163.50 508.60,164.90 509.90,163.50 511.20,164.90 512.50,163.50 513.80,164.90 515.10,163.50 516.40,164.90 517.70,163.50 519.00,164.90 520.30,163.50 521.60,164.90 522.90,163.50 524.20,164.90 525.50,163.50 526.80,164.90 528.10,163.50" fill="none" stroke="#e83a3a" stroke-width="0.9"/>
<polyline points="46.20,562.80 47.50,564.20 48.80,562.80 50.10,564.20 51.40,562.80 52.70,564.20 54.00,562.80 55.30,564.20 56.60,562.80 57.90,564.20 59.20,562.80 60.50,564.20 61.80,562.80 63.10,564.20 64.40,562.80 65.70,564.20 67.00,562.80 68.30,564.20 69.60,562.80 70.90,564.20 72.20,562.80 73.50,564.20 74.80,562.80 76.10,564.20 77.40,562.80 78.70,564.20" fill="none" stroke="#e83a3a" stroke-width="0.9"/>
<polyline points="201.50,562.80 202.80,564.20 204.10,562.80 205.40,564.20 206.70,562.80 208.00,564.20 209.30,562.80 210.60,564.20 211.90,562.80 213.20,564.20 214.50,562.80 215.80,564.20 217.10,562.80 218.40,564.20 219.70,562.80 221.00,564.20 222.30,562.80 223.60,564.20 224.90,562.80 226.20,564.20 227.50,562.80 228.80,564.20 230.10,562.80 231.40,564.20 232.70,562.80 234.00,564.20" fill="none" stroke="#e83a3a" stroke-width="0.9"/>
<polyline points="509.30,562.80 510.60,564.20 511.90,562.80 513.20,564.20 514.50,562.80 515.80,564.20 517.10,562.80 518.40,564.20 519.70,562.80 521.00,564.20 522.30,562.80 523.60,564.20 524.90,562.80 526.20,564.20 527.50,562.80 528.80,564.20 530.10,562.80 531.40,564.20 532.70,562.80 534.00,564.20 535.30,562.80 536.60,564.20 537.90,562.80 539.20,564.20 540.50,562.80 541.80,564.20" fill="none" stroke="#e83a3a" stroke-width="0.9"/>
</svg>
</body></html>
